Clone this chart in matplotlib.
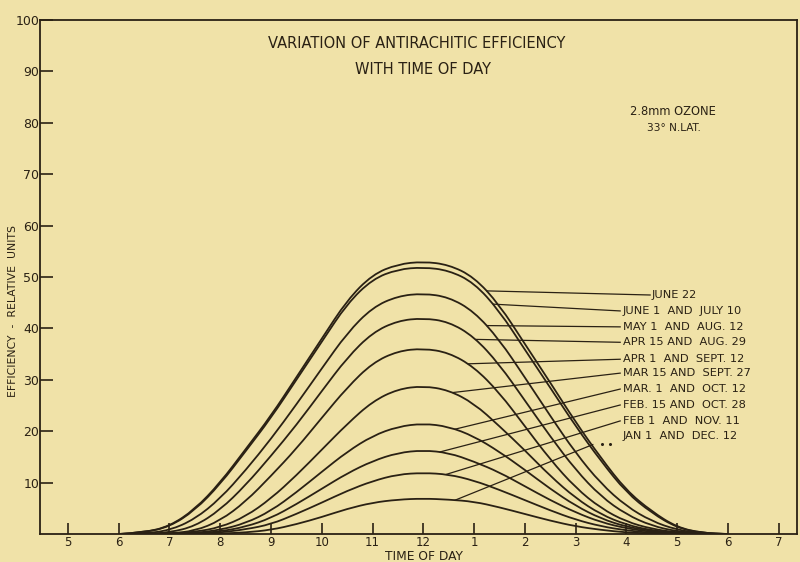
import numpy as np
import matplotlib
matplotlib.use("Agg")
import matplotlib.pyplot as plt
from matplotlib.path import Path
from matplotlib.patches import PathPatch

# time of day in hours (24h clock), half-hour readings
hours = np.arange(6.0, 18.01, 0.5)

june_22 = [0, 0.3, 1.5, 4.8, 10.0, 16.5, 23.0, 30.5, 38.0, 45.5, 50.5, 52.5, 53.0,
           52.4, 50.0, 44.6, 37.0, 29.5, 21.8, 14.8, 8.5, 4.4, 1.3, 0.2, 0]
june_1 = [0, 0.3, 1.4, 4.6, 9.7, 16.1, 22.6, 30.0, 37.4, 44.8, 49.6, 51.5, 51.9,
          51.3, 48.9, 43.4, 35.9, 28.5, 21.0, 14.2, 8.1, 4.1, 1.2, 0.2, 0]
may_1 = [0, 0.1, 0.7, 2.9, 6.9, 12.4, 18.5, 25.2, 32.2, 39.1, 44.1, 46.3, 46.8,
         46.1, 43.3, 37.8, 30.5, 23.0, 15.8, 9.8, 5.4, 2.5, 0.8, 0.1, 0]
apr_15 = [0, 0, 0.3, 1.5, 4.7, 9.5, 15.2, 21.2, 27.8, 34.3, 39.2, 41.5, 42.0,
          41.3, 38.4, 33.0, 26.0, 19.0, 12.5, 7.3, 3.8, 1.6, 0.5, 0.1, 0]
apr_1 = [0, 0, 0.1, 0.6, 2.6, 6.3, 11.3, 16.6, 22.6, 28.5, 33.3, 35.6, 36.1,
         35.3, 32.5, 27.5, 21.0, 14.5, 9.0, 5.0, 2.4, 1.0, 0.3, 0, 0]
mar_15 = [0, 0, 0.1, 0.4, 1.3, 3.4, 6.9, 11.4, 16.4, 21.4, 25.8, 28.2, 28.8,
          28.0, 25.4, 21.0, 16.3, 11.3, 7.0, 3.8, 1.8, 0.7, 0.2, 0, 0]
mar_1 = [0, 0, 0, 0.2, 0.8, 2.1, 4.5, 8.1, 12.1, 16.0, 19.1, 20.9, 21.5,
         20.9, 19.0, 16.0, 12.5, 8.8, 5.5, 3.0, 1.4, 0.6, 0.1, 0, 0]
feb_15 = [0, 0, 0, 0.1, 0.5, 1.4, 3.1, 5.8, 8.8, 11.8, 14.2, 15.8, 16.3,
          15.8, 14.1, 12.0, 9.3, 6.6, 4.2, 2.3, 1.1, 0.4, 0.1, 0, 0]
feb_1 = [0, 0, 0, 0, 0.3, 0.9, 1.9, 3.9, 6.1, 8.4, 10.3, 11.6, 11.9,
         11.6, 10.4, 8.6, 6.6, 4.6, 2.8, 1.5, 0.7, 0.2, 0, 0, 0]
jan_1 = [0, 0, 0, 0, 0.1, 0.3, 0.8, 1.9, 3.3, 4.9, 6.1, 6.7, 6.9,
         6.7, 6.3, 5.2, 3.9, 2.6, 1.5, 0.8, 0.3, 0.1, 0, 0, 0]

curves = [june_22, june_1, may_1, apr_15, apr_1, mar_15, mar_1, feb_15, feb_1, jan_1]
labels = ["JUNE 22", "JUNE 1  AND  JULY 10", "MAY 1  AND  AUG. 12", "APR 15 AND  AUG. 29",
          "APR 1  AND  SEPT. 12", "MAR 15 AND  SEPT. 27", "MAR. 1  AND  OCT. 12",
          "FEB. 15 AND  OCT. 28", "FEB 1  AND  NOV. 11", "JAN 1  AND  DEC. 12"]

tick_hours = list(range(5, 20))
tick_names = ["5", "6", "7", "8", "9", "10", "11", "12", "1", "2", "3", "4", "5", "6", "7"]

paper = "#F0E2A8"
ink = "#2A2114"


def smooth_curve(ax, x, y, **kw):
    # draw the readings as a rounded pen line (quadratic spline through midpoints)
    pts = np.column_stack([x, y])
    verts = [pts[0]]
    codes = [Path.MOVETO]
    for i in range(1, len(pts) - 1):
        verts += [pts[i], (pts[i] + pts[i + 1]) / 2]
        codes += [Path.CURVE3, Path.CURVE3]
    verts.append(pts[-1])
    codes.append(Path.LINETO)
    ax.add_patch(PathPatch(Path(verts, codes), fill=False, **kw))


fig = plt.figure(figsize=(8, 5.62), dpi=100, facecolor=paper)
ax = fig.add_axes([0.0506, 0.0498, 0.9454, 0.9146], facecolor=paper)

for c in curves:
    smooth_curve(ax, hours, np.array(c, dtype=float), edgecolor=ink, lw=1.3)

# leader lines from each curve to its label
leader_from = [13.25, 13.38, 13.25, 13.05, 12.89, 12.59, 12.63, 12.33, 12.46, 12.63]
label_y = [46.5, 43.4, 40.3, 37.3, 34.0, 31.3, 28.2, 25.1, 22.0, 19.1]
for i, (c, lab) in enumerate(zip(curves, labels)):
    y0 = np.interp(leader_from[i], hours, c)
    if i == 0:
        x1, tx = 16.47, 16.50
    else:
        x1, tx = 15.88, 15.93
    if i == len(curves) - 1:
        ax.plot([leader_from[i], 15.34], [y0, 17.4], color=ink, lw=0.9)
        ax.plot([15.52, 15.68], [17.6, 17.6], ls="none", marker="o", ms=1.2, color=ink)
    else:
        ax.plot([leader_from[i], x1], [y0, label_y[i]], color=ink, lw=0.9)
    ax.text(tx, label_y[i], lab, fontsize=8.2, color=ink, va="center", ha="left")

ax.set_xlim(4.458, 19.36)
ax.set_ylim(0, 100)
ax.set_xticks(tick_hours)
ax.set_xticklabels(tick_names)
ax.set_yticks(range(10, 101, 10))
ax.tick_params(axis="x", direction="in", length=8, width=1.2, pad=1.5, colors=ink, labelsize=8.5)
ax.tick_params(axis="y", direction="in", length=9, width=1.2, pad=1, colors=ink, labelsize=9)
for s in ax.spines.values():
    s.set_color(ink)
    s.set_linewidth(1.3)

ax.text((417 - 40.5) / 756.5, 0.955, "VARIATION OF ANTIRACHITIC EFFICIENCY",
        transform=ax.transAxes, ha="center", va="center", fontsize=10.5, color=ink)
ax.text((423 - 40.5) / 756.5, 0.904, "WITH TIME OF DAY", transform=ax.transAxes,
        ha="center", va="center", fontsize=10.5, color=ink)
ax.text((673 - 40.5) / 756.5, 0.822, "2.8mm OZONE", transform=ax.transAxes,
        ha="center", va="center", fontsize=8.3, color=ink)
ax.text((674 - 40.5) / 756.5, 0.79, "33° N.LAT.", transform=ax.transAxes,
        ha="center", va="center", fontsize=7.6, color=ink)

fig.text(13 / 800, 1 - 311 / 562, "EFFICIENCY  -  RELATIVE  UNITS", rotation=90,
         ha="center", va="center", fontsize=7.8, color=ink)
fig.text(424 / 800, 1 - 556.5 / 562, "TIME OF DAY", ha="center", va="center",
         fontsize=8.8, color=ink)

fig.savefig("out.png", dpi=100, facecolor=paper)
